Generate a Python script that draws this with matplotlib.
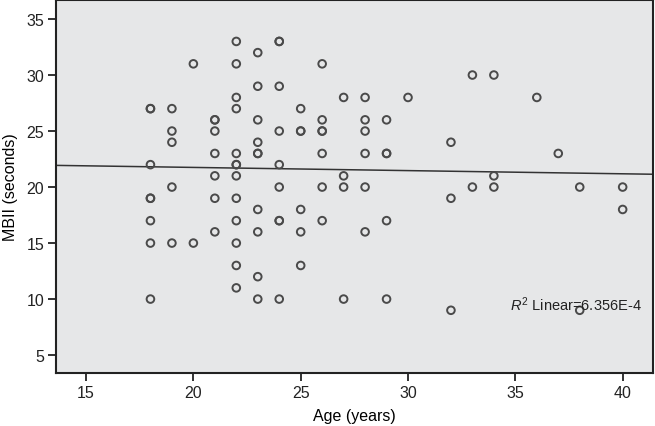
import numpy as np
import matplotlib
matplotlib.use("Agg")
import matplotlib.pyplot as plt

plt.rcParams['font.family'] = ['Liberation Sans', 'DejaVu Sans']
plt.rcParams['mathtext.fontset'] = 'custom'
plt.rcParams['mathtext.rm'] = 'Liberation Sans'
plt.rcParams['mathtext.it'] = 'Liberation Sans:italic'

# Edad (años) y MBII (segundos), columna por columna
age_18 = [27, 27, 22, 19, 19, 17, 15, 10]
age_19 = [27, 25, 24, 20, 15]
age_20 = [31, 15]
age_21 = [26, 26, 25, 23, 21, 19, 16]
age_22 = [33, 31, 28, 27, 23, 22, 22, 21, 19, 17, 15, 13, 11]
age_23 = [32, 29, 26, 24, 23, 23, 18, 16, 12, 10]
age_24 = [33, 33, 29, 25, 22, 20, 17, 17, 10]
age_25 = [27, 25, 25, 18, 16, 13]
age_26 = [31, 26, 25, 25, 23, 20, 17]
age_27 = [28, 21, 20, 10]
age_28 = [28, 26, 25, 23, 20, 16]
age_29 = [26, 23, 23, 17, 10]
age_30 = [28]
age_32 = [24, 19, 9]
age_33 = [30, 20]
age_34 = [30, 21, 20]
age_36 = [28]
age_37 = [23]
age_38 = [20, 9]
age_40 = [20, 18]

columnas = {18: age_18, 19: age_19, 20: age_20, 21: age_21, 22: age_22,
            23: age_23, 24: age_24, 25: age_25, 26: age_26, 27: age_27,
            28: age_28, 29: age_29, 30: age_30, 32: age_32, 33: age_33,
            34: age_34, 36: age_36, 37: age_37, 38: age_38, 40: age_40}

edades = []
mbii = []
for edad, valores in columnas.items():
    edades.extend([edad] * len(valores))
    mbii.extend(valores)
edades = np.array(edades, dtype=float)
mbii = np.array(mbii, dtype=float)

r2_texto = r'$R^2$ Linear=6.356E-4'

fig = plt.figure(figsize=(6.55, 4.27), dpi=100)
ax = fig.add_axes([0.0855, 0.1241, 0.911, 0.8736])
ax.set_facecolor('#e6e7e8')

ax.scatter(edades, mbii, s=30, facecolors='none', edgecolors='#4a4a4a',
           linewidths=1.4, zorder=3)

# Recta de regresión lineal
pendiente, intercepto = np.polyfit(edades, mbii, 1)
xlim = (13.6, 41.4)
xs = np.array(xlim)
ax.plot(xs, intercepto + pendiente * xs, color='#333333', lw=1.1, zorder=2)

ax.set_xlim(*xlim)
ax.set_ylim(3.4, 36.7)
ax.set_xticks([15, 20, 25, 30, 35, 40])
ax.set_yticks([5, 10, 15, 20, 25, 30, 35])
ax.tick_params(direction='out', length=6, width=1.3, pad=2.5,
               labelsize=11.5, colors='#222222')
for s in ax.spines.values():
    s.set_linewidth(1.5)
    s.set_color('#222222')

ax.set_xlabel('Age (years)', fontsize=11.5, labelpad=6)
ax.set_ylabel('MBII (seconds)', fontsize=11.5, labelpad=6)

ax.text(34.75, 9.55, r2_texto, fontsize=10.5, va='center', ha='left',
        color='#222222', zorder=4)

fig.savefig('out.png', dpi=100)
